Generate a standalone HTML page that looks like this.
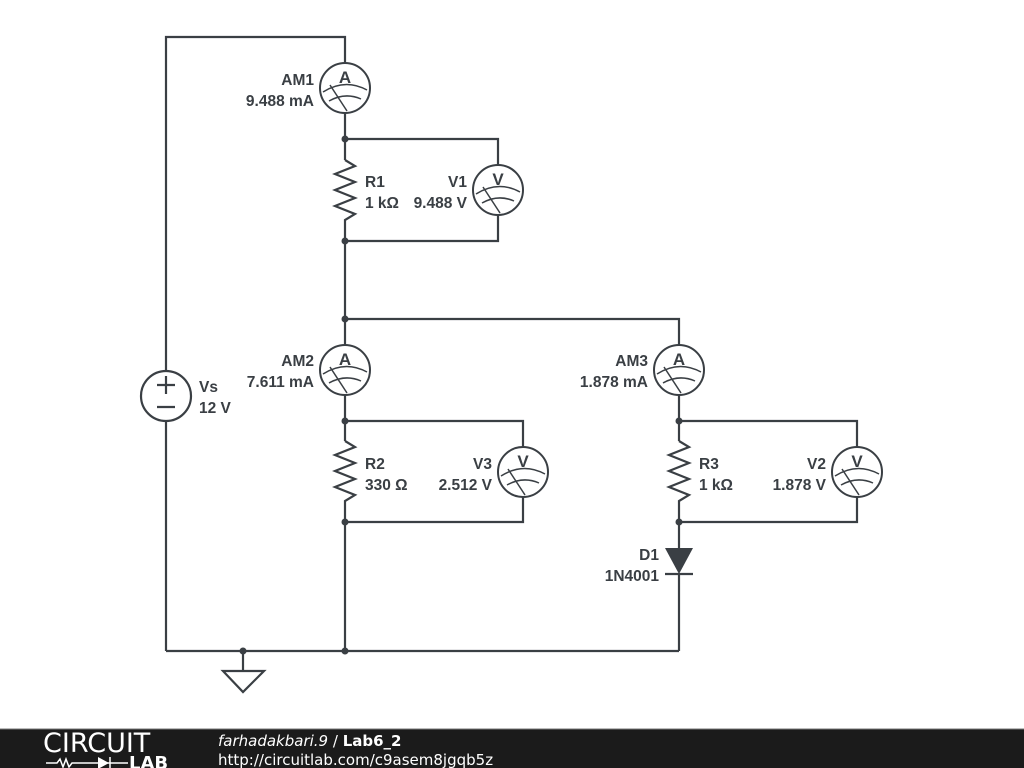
<!DOCTYPE html>
<html><head><meta charset="utf-8"><style>
html,body{margin:0;padding:0;background:#fff;width:1024px;height:768px;overflow:hidden}
svg{display:block}
text{font-family:"Liberation Sans",Arial,sans-serif;font-weight:bold;font-size:15.5px;fill:#3a3f44}
.ml{font-size:17px}
.ft{font-family:"DejaVu Sans",sans-serif;fill:#fff}
</style></head><body>
<svg width="1024" height="768" viewBox="0 0 1024 768">
<defs>
<g id="meter">
<circle cx="0" cy="0" r="25" fill="#fff" stroke="#3a3f44" stroke-width="2"/>
<path d="M-22,4 Q0,-10 22,2" fill="none" stroke="#3a3f44" stroke-width="1.5"/>
<path d="M-16,13 Q0,4 16,11" fill="none" stroke="#3a3f44" stroke-width="1.5"/>
<path d="M-15,-3 L2,23" fill="none" stroke="#3a3f44" stroke-width="1.5"/>
</g>
</defs>
<g fill="none" stroke="#3a3f44" stroke-width="2.2">
<polyline points="166,371 166,37 345,37 345,63"/>
<line x1="166" y1="421" x2="166" y2="651"/>
<line x1="166" y1="651" x2="679" y2="651"/>
<line x1="345" y1="113" x2="345" y2="160"/>
<polyline points="345,160 355,166 335,174 355,182 335,190 355,198 335,206 355,214 345,220 345,345"/>
<polyline points="345,139 498,139 498,165"/>
<polyline points="498,215 498,241 345,241"/>
<polyline points="345,319 679,319 679,345"/>
<line x1="345" y1="395" x2="345" y2="441"/>
<polyline points="345,441 355,447 335,455 355,463 335,471 355,479 335,487 355,495 345,501 345,651"/>
<polyline points="345,421 523,421 523,447"/>
<polyline points="523,497 523,522 345,522"/>
<line x1="679" y1="395" x2="679" y2="441"/>
<polyline points="679,441 689,447 669,455 689,463 669,471 689,479 669,487 689,495 679,501 679,548"/>
<polyline points="679,421 857,421 857,447"/>
<polyline points="857,497 857,522 679,522"/>
<line x1="679" y1="574" x2="679" y2="651"/>
<line x1="665" y1="574" x2="693" y2="574"/>
<line x1="243" y1="651" x2="243" y2="671"/>
<polygon points="223,671 264,671 243,692"/>
<circle cx="166" cy="396" r="25" fill="#fff"/>
<line x1="157" y1="385" x2="175" y2="385"/>
<line x1="166" y1="376" x2="166" y2="394"/>
<line x1="157" y1="407" x2="175" y2="407"/>
</g>
<polygon points="665,548 693,548 679,574" fill="#3a3f44"/>
<g fill="#3a3f44">
<circle cx="345" cy="139" r="3.5"/><circle cx="345" cy="241" r="3.5"/>
<circle cx="345" cy="319" r="3.5"/><circle cx="345" cy="421" r="3.5"/>
<circle cx="345" cy="522" r="3.5"/><circle cx="679" cy="421" r="3.5"/>
<circle cx="679" cy="522" r="3.5"/><circle cx="243" cy="651" r="3.5"/>
<circle cx="345" cy="651" r="3.5"/>
</g>
<use href="#meter" x="345" y="88"/><text class="ml" x="345" y="83" text-anchor="middle">A</text>
<use href="#meter" x="498" y="190"/><text class="ml" x="498" y="185" text-anchor="middle">V</text>
<use href="#meter" x="345" y="370"/><text class="ml" x="345" y="365" text-anchor="middle">A</text>
<use href="#meter" x="679" y="370"/><text class="ml" x="679" y="365" text-anchor="middle">A</text>
<use href="#meter" x="523" y="472"/><text class="ml" x="523" y="467" text-anchor="middle">V</text>
<use href="#meter" x="857" y="472"/><text class="ml" x="857" y="467" text-anchor="middle">V</text>
<g text-anchor="end">
<text x="314" y="85">AM1</text><text x="314" y="106">9.488 mA</text>
<text x="467" y="187">V1</text><text x="467" y="208">9.488 V</text>
<text x="314" y="366">AM2</text><text x="314" y="387">7.611 mA</text>
<text x="648" y="366">AM3</text><text x="648" y="387">1.878 mA</text>
<text x="492" y="469">V3</text><text x="492" y="490">2.512 V</text>
<text x="826" y="469">V2</text><text x="826" y="490">1.878 V</text>
<text x="659" y="560">D1</text><text x="659" y="581">1N4001</text>
</g>
<text x="365" y="187">R1</text><text x="365" y="208">1 kΩ</text>
<text x="365" y="469">R2</text><text x="365" y="490">330 Ω</text>
<text x="699" y="469">R3</text><text x="699" y="490">1 kΩ</text>
<text x="199" y="392">Vs</text><text x="199" y="413">12 V</text>
<rect x="0" y="729" width="1024" height="39" fill="#1b1b1b"/>
<line x1="0" y1="729" x2="1024" y2="729" stroke="#777" stroke-width="1"/>
<text x="43" y="752" class="ft" style="font-weight:normal;font-size:27px;font-family:'DejaVu Sans ExtraLight','DejaVu Sans',sans-serif">CIRCUIT</text>
<path d="M46,763 H57 l3,-4 3,8 3,-8 3,8 3,-4 H96" stroke="#fff" stroke-width="1.5" fill="none"/>
<path d="M96,763 H128 M110,757 v12" stroke="#fff" stroke-width="1.5"/>
<path d="M98,757 v12 l11,-6 z" fill="#fff"/>
<text x="129" y="769" class="ft" style="font-size:18px;font-weight:bold">LAB</text>
<text x="218" y="746" class="ft" style="font-weight:normal;font-style:italic;font-size:15px">farhadakbari.9 <tspan style="font-style:normal">/ </tspan><tspan style="font-style:normal;font-weight:bold">Lab6_2</tspan></text>
<text x="218" y="765" class="ft" style="font-weight:normal;font-size:15px">http://circuitlab.com/c9asem8jgqb5z</text>
</svg>
</body></html>
